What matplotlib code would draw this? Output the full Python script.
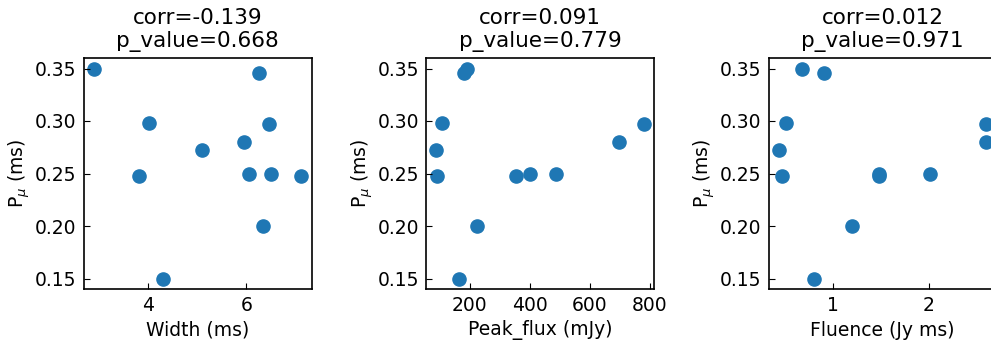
import matplotlib.pyplot as plt

# P_mu (ms) and burst properties
width = [2.91, 6.26, 4.02, 6.46, 5.11, 5.96, 3.82, 6.06, 6.50, 7.11, 6.34, 4.32]
p_mu_w = [0.350, 0.346, 0.298, 0.297, 0.272, 0.280, 0.248, 0.250, 0.250, 0.248, 0.200, 0.150]

peak_flux = [109, 89, 91, 164, 181, 190, 223, 356, 400, 487, 698, 780]
p_mu_f = [0.298, 0.272, 0.248, 0.150, 0.346, 0.350, 0.200, 0.248, 0.250, 0.250, 0.280, 0.297]

fluence = [0.667, 0.90, 0.505, 0.43, 0.46, 0.80, 1.20, 1.48, 1.48, 2.01, 2.60, 2.60]
p_mu_fl = [0.350, 0.346, 0.298, 0.272, 0.248, 0.150, 0.200, 0.250, 0.248, 0.250, 0.297, 0.280]

titles = ["corr=-0.139\np_value=0.668",
          "corr=0.091\np_value=0.779",
          "corr=0.012\np_value=0.971"]
xlabels = ["Width (ms)", "Peak_flux (mJy)", "Fluence (Jy ms)"]

fig = plt.figure(figsize=(9.91, 3.46), dpi=100)
W, H = 991, 346
lefts = [83.5, 426, 768.5]
axw, axh = 228, 231
top = 58

panels = [(width, p_mu_w), (peak_flux, p_mu_f), (fluence, p_mu_fl)]
for i, (xs, ys) in enumerate(panels):
    ax = fig.add_axes([lefts[i] / W, 1 - (top + axh) / H, axw / W, axh / H])
    ax.scatter(xs, ys, s=90, color="#1f77b4")
    ax.set_title(titles[i], fontsize=15.5, pad=8, linespacing=1.2)
    ax.set_xlabel(xlabels[i], fontsize=13.5, labelpad=4)
    ax.set_ylabel(r"P$_\mu$ (ms)", fontsize=13.5, labelpad=2)
    ax.set_yticks([0.15, 0.20, 0.25, 0.30, 0.35])
    ax.tick_params(direction="in", labelsize=13.5, length=4, pad=5)
    for sp in ax.spines.values():
        sp.set_linewidth(1.2)

fig.savefig("out.png", dpi=100)
